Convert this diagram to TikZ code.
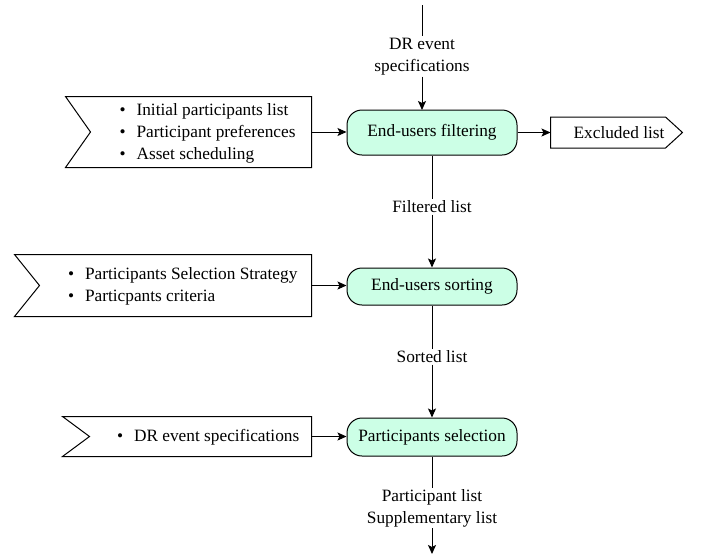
\documentclass[tikz,border=0pt]{standalone}
\usepackage{fontspec}
\setmainfont{Liberation Serif}
\usetikzlibrary{arrows.meta,calc}
\definecolor{mint}{RGB}{204,255,230}
\begin{document}
\begin{tikzpicture}[x=1pt,y=-1pt,
  font=\fontsize{17.3}{22}\selectfont,
  line width=1pt,
  arr/.style={-{Stealth[length=9pt,width=8pt,inset=2pt]}},
  proc/.style={draw, fill=mint, rounded corners=15pt, minimum width=170pt, inner sep=0pt},
  frame/.style={inner sep=0pt, draw=none},
  txt/.style={inner sep=0pt, align=left, anchor=west},
  lbl/.style={inner sep=1pt, align=center, fill=white}
]
\useasboundingbox (0,0) rectangle (702,558);

% process nodes
\node[proc, minimum height=45pt] (filt) at (432,132.5) {End-users filtering};
\node[proc, minimum height=37pt] (sort) at (432,286.5) {End-users sorting};
\node[proc, minimum height=38pt] (sel) at (432,437) {Participants selection};

% input 1
\node[frame, minimum width=245pt, minimum height=70pt] (in1) at (188.5,132) {};
\draw (in1.north west) -- (in1.north east) -- (in1.south east) -- (in1.south west) -- ($(in1.west)+(25,0)$) -- cycle;
\node[txt] (t1) at (119,133.5) {\textbullet\hspace{11pt}Initial participants list\\\textbullet\hspace{11pt}Participant preferences\\\textbullet\hspace{11pt}Asset scheduling};

% input 2
\node[frame, minimum width=296pt, minimum height=61pt] (in2) at (163,285.5) {};
\draw (in2.north west) -- (in2.north east) -- (in2.south east) -- (in2.south west) -- ($(in2.west)+(25,0)$) -- cycle;
\node[txt] (t2) at (67.5,286.5) {\textbullet\hspace{11pt}Participants Selection Strategy\\\textbullet\hspace{11pt}Particpants criteria};

% input 3
\node[frame, minimum width=248pt, minimum height=39pt] (in3) at (187,436.5) {};
\draw (in3.north west) -- (in3.north east) -- (in3.south east) -- (in3.south west) -- ($(in3.west)+(27,0)$) -- cycle;
\node[txt] (t3) at (116.5,437) {\textbullet\hspace{11pt}DR event specifications};

% excluded list
\node[frame, minimum width=114pt, minimum height=30pt] (exc) at (608,132.5) {};
\draw (exc.north west) -- (exc.north east) -- ($(exc.east)+(17,0)$) -- (exc.south east) -- (exc.south west) -- cycle;
\node[inner sep=0pt] (exct) at (619,133) {Excluded list};

% top input
\coordinate (top) at (422,5);
\node[lbl] (toplbl) at (422,56.5) {DR event\\specifications};
\draw (top) -- (toplbl.north);
\draw[arr] (toplbl.south) -- (422,110);

% side inputs
\draw[arr] (in1.east) -- (filt.west |- in1.east);
\draw[arr] (in2.east) -- (sort.west |- in2.east);
\draw[arr] (in3.east) -- (sel.west |- in3.east);
\draw[arr] (filt.east) -- (exc.west);

% main flow
\node[lbl] (fl) at (432,207) {Filtered list};
\draw (filt.south) -- (fl.north);
\draw[arr] (fl.south) -- (sort.north);
\node[lbl] (sl) at (432,357) {Sorted list};
\draw (sort.south) -- (sl.north);
\draw[arr] (sl.south) -- (sel.north);
\node[lbl] (pl) at (432,508) {Participant list\\Supplementary list};
\coordinate (bot) at (432,554);
\draw (sel.south) -- (pl.north);
\draw[arr] (pl.south) -- (bot);
\end{tikzpicture}
\end{document}
